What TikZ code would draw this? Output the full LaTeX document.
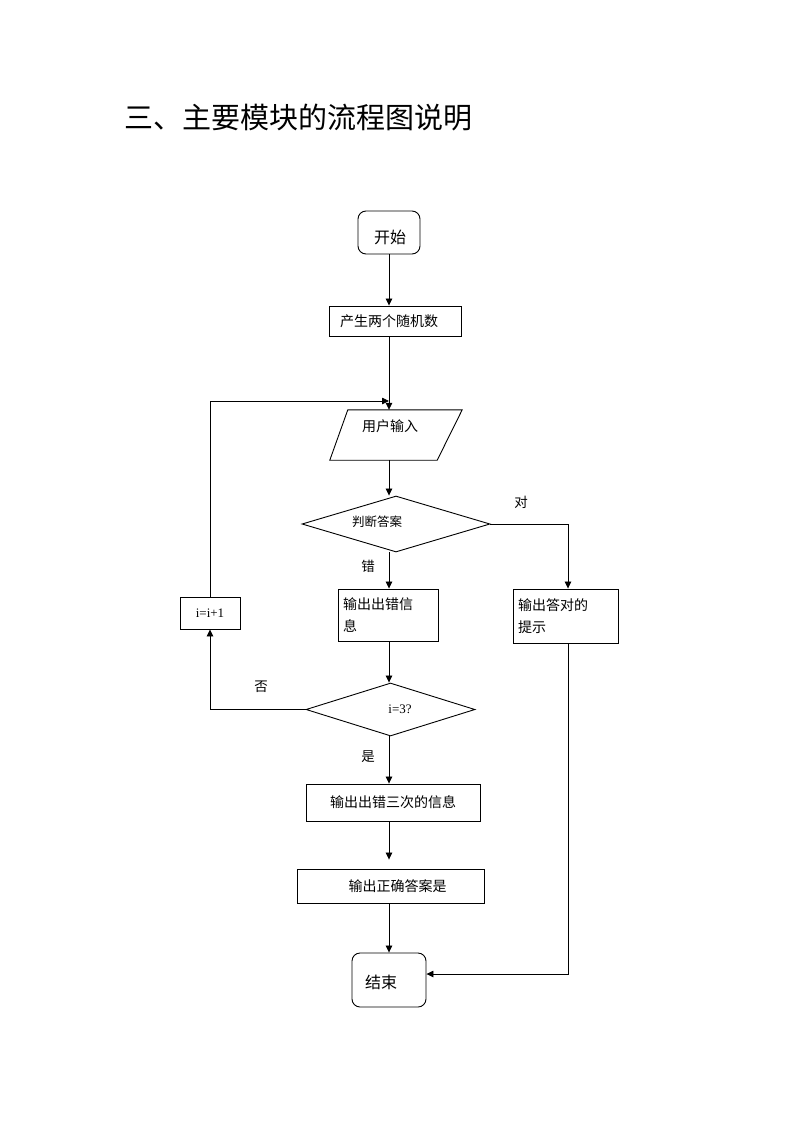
\documentclass[tikz,border=0pt]{standalone}
\usepackage{fontspec}
\setmainfont{Liberation Serif}
\newfontfamily\cjk{Noto Sans CJK SC}
\usetikzlibrary{shapes.geometric,arrows.meta,calc}
\begin{document}
\begin{tikzpicture}[x=1pt,y=-1pt,
  every node/.style={inner sep=0pt},
  box/.style={draw,line width=0.9pt,rectangle,font=\cjk\fontsize{14}{22}\selectfont},
  term/.style={draw,line width=0.9pt,rectangle,rounded corners=8pt},
  termtext/.style={font=\cjk\fontsize{16}{16}\selectfont},
  dec/.style={draw,line width=0.9pt,diamond,inner sep=2pt},
  lbl/.style={font=\cjk\fontsize{13.5}{14}\selectfont},
  conn/.style={line width=0.8pt,-{Triangle[length=7pt,width=6.5pt]}},
  plain/.style={line width=0.8pt}]
\useasboundingbox (0,0) rectangle (800,1132);
\node[font=\cjk\fontsize{29}{29}\selectfont] (title) at (298,118) {三、主要模块的流程图说明};
\coordinate (spine) at (389,0);
\coordinate (okx) at (568,0);
\coordinate (looptop) at (389,401);
\coordinate (endin) at (426,974);
\node[term,minimum width=62pt,minimum height=43pt,label={[termtext,xshift=1pt,yshift=-5pt]center:开始}] (start) at (389,232.5) {};
\node[box,minimum width=132pt,minimum height=30pt] (gen) at (395,321) {\hspace{-12pt}产生两个随机数};
% parallelogram (input)
\node[minimum width=132pt,minimum height=50pt] (in) at (396,435) {};
\draw[line width=0.9pt] (in.south west) -- ($(in.north west)+(18,0)$) -- (in.north east) -- ($(in.south east)+(-25,0)$) -- cycle;
\node[font=\cjk\fontsize{14}{16}\selectfont] (intext) at (390,426) {用户输入};
\node[dec,minimum width=188pt,minimum height=56pt] (d1) at (396,524) {};
\node[font=\cjk\fontsize{12.5}{14}\selectfont] (d1text) at (377,522) {判断答案};
\node[box,minimum width=100pt,minimum height=52pt,text width=90pt,align=left] (err) at (388,615) {输出出错信\\息};
\node[box,minimum width=105pt,minimum height=54pt,text width=95pt,align=left] (ok) at (565.5,616) {输出答对的\\提示};
\node[draw,line width=0.9pt,minimum width=60pt,minimum height=32pt,font=\fontsize{13}{14}\selectfont] (inc) at (210,613) {i=i+1};
\node[dec,minimum width=169pt,minimum height=53pt] (d2) at (390.5,709.5) {};
\node[font=\fontsize{13}{14}\selectfont] (d2text) at (400,709) {i=3?};
\node[box,minimum width=174pt,minimum height=37pt] (three) at (393,802.5) {输出出错三次的信息};
\node[box,minimum width=187pt,minimum height=34pt] (ans) at (390.5,886) {\hspace{14pt}输出正确答案是};
\node[term,minimum width=74pt,minimum height=54pt,label={[termtext,xshift=-8pt,yshift=-2pt]center:结束}] (end) at (389,980) {};
\node[lbl] (ldui) at (521,502) {对};
\node[lbl] (lcuo) at (368,566) {错};
\node[lbl] (lfou) at (261,687) {否};
\node[lbl] (lshi) at (368,757) {是};
% connectors
\draw[conn] (start.south) -- (start.south |- gen.north);
\draw[conn] (gen.south -| spine) -- (in.north -| spine);
\draw[conn] (inc.north) |- (looptop);
\draw[conn] (in.south -| spine) -- (d1.north -| spine);
\draw[conn] (d1.east) -| (ok.north -| okx);
\draw[conn] (d1.south -| spine) -- (err.north -| spine);
\draw[conn] (err.south -| spine) -- (d2.north -| spine);
\draw[conn] (d2.west) -| (inc.south);
\draw[conn] (d2.south -| spine) -- (three.north -| spine);
\draw[conn,shorten >=9pt] (three.south -| spine) -- (ans.north -| spine);
\draw[conn] (ans.south -| spine) -- (end.north -| spine);
\draw[conn] (ok.south -| okx) |- (endin -| end.east);
\end{tikzpicture}
\end{document}
